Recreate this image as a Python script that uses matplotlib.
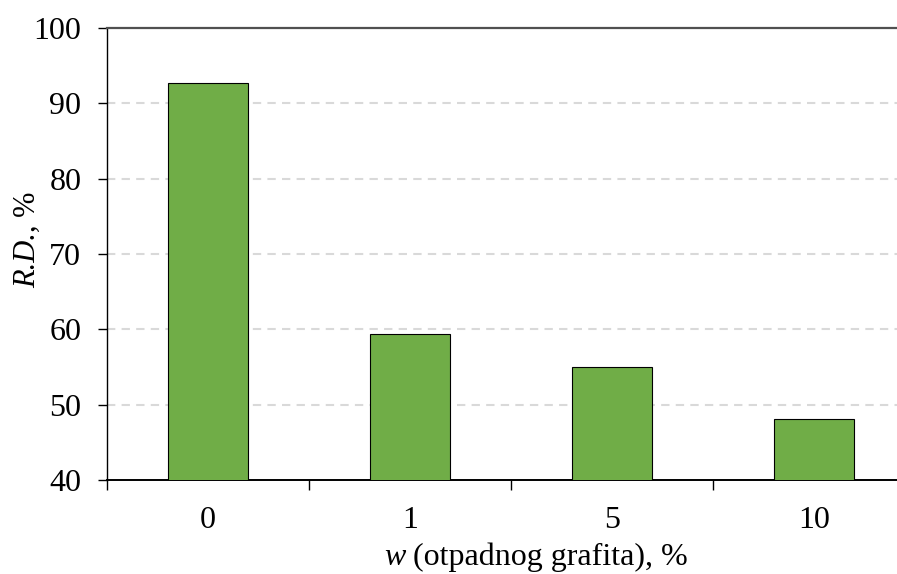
import matplotlib.pyplot as plt
import numpy as np

categories = ["0", "1", "5", "10"]
rd_values = [92.65, 59.4, 54.95, 48.05]

plt.rcParams["font.family"] = ["Liberation Serif", "DejaVu Serif"]

W, H = 897, 574
fig = plt.figure(figsize=(W / 100, H / 100), dpi=100)
ax = fig.add_axes([107 / W, 94 / H, 808 / W, 452 / H])

x = np.arange(len(categories))
ax.bar(x, rd_values, width=0.4, color="#70AD47", edgecolor="black", linewidth=0.8, zorder=3)

ax.set_xlim(-0.5, len(categories) - 0.5)
ax.set_ylim(40, 100)
ax.set_yticks(range(40, 101, 10))
for yv in range(50, 100, 10):
    ax.axhline(yv, color="#D9D9D9", linestyle=(0, (4, 3)), linewidth=1.5, zorder=1)

# category separators as major ticks, labels on minor ticks
ax.set_xticks(np.arange(-0.5, len(categories) - 0.5, 1.0))
ax.set_xticklabels([])
ax.set_xticks(x, minor=True)
ax.set_xticklabels(categories, minor=True)
ax.tick_params(axis="x", which="major", direction="out", length=7, width=1)
ax.tick_params(axis="x", which="minor", length=0, pad=19, labelsize=23)
ax.tick_params(axis="y", direction="out", length=6.5, width=1, pad=12, labelsize=23)

ax.spines["right"].set_visible(False)
ax.spines["top"].set_color("#505050")
ax.spines["top"].set_linewidth(1.6)
ax.spines["left"].set_linewidth(1.0)
ax.spines["bottom"].set_linewidth(1.4)

# x label: italic "w" followed by upright text
xl = fig.text(384 / W, 1 - 565 / H, "w", fontsize=23, fontstyle="italic",
              ha="left", va="baseline")
ax.annotate(" (otpadnog grafita), %", xy=(1, 0), xycoords=xl,
            fontsize=23, ha="left", va="bottom")

# y label: italic "R.D." then ", %"
yl = fig.text(35 / W, 1 - 288 / H, "R.D.", fontsize=22, fontstyle="italic",
              rotation=90, ha="left", va="baseline", rotation_mode="anchor")
ax.annotate(", %", xy=(0, 1), xycoords=yl, fontsize=22, rotation=90,
            ha="left", va="bottom")

fig.savefig("out.png", dpi=100)
